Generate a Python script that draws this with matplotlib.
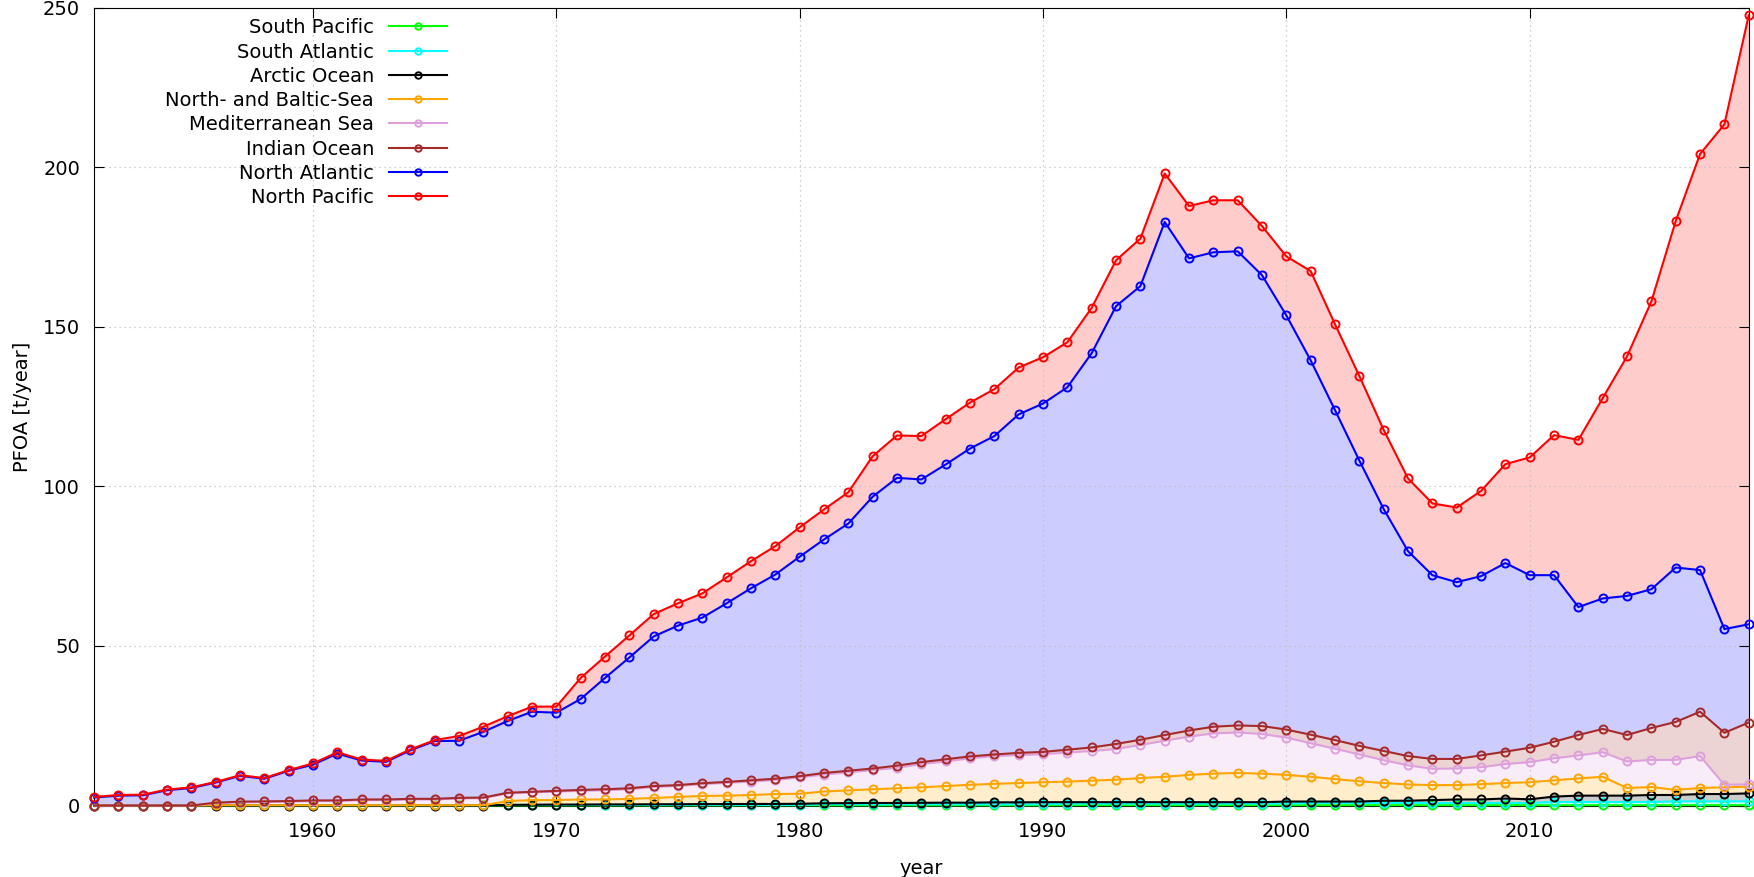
import matplotlib
matplotlib.use("Agg")
import matplotlib.pyplot as plt

plt.rcParams['font.family'] = ['DejaVu Sans']

years = list(range(1951, 2020))

# stacked totals (top edge of each band), t/year
south_pacific = [0.0]*5 + [0.05]*35 + [0.1]*29
south_atlantic = [0.0]*5 + [0.1]*12 + [0.2]*13 + [0.4]*10 + [0.6]*10 + [0.8]*10 + [1.1]*5 + [1.3]*4
arctic_ocean = [0.0]*17 + [
    0.2, 0.25, 0.3, 0.3, 0.35, 0.35, 0.4, 0.4, 0.45, 0.45, 0.5, 0.5, 0.55,
    0.7, 0.75, 0.8, 0.8, 0.85, 0.9, 0.9, 1.0, 1.0, 1.05,
    1.05, 1.05, 1.05, 1.05, 1.05, 1.05, 1.05, 1.05, 1.05, 1.25,
    1.25, 1.25, 1.25, 1.5, 1.5, 1.7, 1.9, 1.9, 2.2, 1.95,
    2.8, 3.1, 3.1, 3.1, 3.3, 3.3, 3.6, 3.6, 3.8]
north_baltic = [0.0]*5 + [0.1]*12 + [
    1.4, 1.7, 1.7, 1.9, 1.9, 2.1, 2.35, 2.7, 3.0, 3.1, 3.3, 3.6, 3.7,
    4.4, 4.75, 5.1, 5.4, 5.7, 6.1, 6.5, 6.8, 7.05, 7.3,
    7.5, 7.8, 8.1, 8.6, 9.0, 9.6, 10.0, 10.2, 10.0, 9.6,
    9.0, 8.3, 7.6, 7.05, 6.6, 6.4, 6.4, 6.7, 7.05, 7.3,
    7.9, 8.5, 9.0, 5.5, 5.8, 4.9, 5.5, 5.7, 5.9]
mediterranean = [0.0]*5 + [
    0.7, 1.0, 1.1, 1.2, 1.4, 1.4, 1.7, 1.7, 1.9, 1.9, 2.2, 2.3,
    3.8, 4.1, 4.4, 4.6, 4.8, 5.1, 5.8, 6.1, 6.7, 7.1, 7.5, 8.0, 8.8,
    9.7, 10.4, 11.1, 11.8, 13.0, 13.8, 14.8, 15.5, 15.8, 16.1,
    16.6, 17.1, 17.7, 19.0, 20.3, 21.6, 22.6, 22.9, 22.4, 21.3,
    19.5, 17.8, 16.0, 14.2, 12.6, 11.5, 11.6, 12.0, 13.0, 13.6,
    14.8, 15.7, 16.7, 13.8, 14.3, 14.3, 15.5, 6.5, 6.6]
indian_ocean = [0.0]*5 + [
    0.9, 1.2, 1.3, 1.4, 1.6, 1.6, 1.9, 1.9, 2.1, 2.1, 2.4, 2.5,
    4.0, 4.3, 4.6, 4.9, 5.1, 5.4, 6.1, 6.4, 7.0, 7.4, 7.9, 8.4, 9.2,
    10.2, 10.9, 11.6, 12.5, 13.6, 14.5, 15.4, 16.0, 16.5, 16.8,
    17.5, 18.2, 19.3, 20.6, 22.1, 23.5, 24.7, 25.1, 24.9, 23.8,
    22.2, 20.5, 18.7, 17.1, 15.5, 14.6, 14.6, 15.7, 16.9, 18.1,
    20.0, 22.1, 24.0, 22.1, 24.3, 26.2, 29.4, 22.8, 26.0]
north_atlantic = [
    2.5, 3.1, 3.2, 4.8, 5.5, 7.2, 9.3, 8.4, 10.9, 12.8,
    16.3, 14.1, 13.7, 17.3, 20.2, 20.3, 23.1, 26.5, 29.4, 29.1,
    33.4, 40.0, 46.4, 53.0, 56.4, 58.9, 63.4, 68.1, 72.4, 78.0,
    83.4, 88.4, 96.8, 102.7, 102.2, 106.9, 111.9, 115.8, 122.6, 126.0,
    131.1, 141.8, 156.5, 162.8, 182.9, 171.5, 173.4, 173.7, 166.2, 153.6,
    139.5, 123.9, 108.1, 92.9, 79.7, 72.2, 70.0, 71.9, 76.0, 72.2,
    72.2, 62.2, 64.9, 65.7, 67.8, 74.6, 73.8, 55.3, 56.8]
north_pacific = [
    2.7, 3.3, 3.4, 5.0, 5.7, 7.4, 9.5, 8.6, 11.1, 13.2,
    16.7, 14.4, 14.0, 17.6, 20.5, 21.8, 24.7, 28.0, 31.0, 31.0,
    40.0, 46.7, 53.3, 60.0, 63.4, 66.5, 71.5, 76.6, 81.3, 87.2,
    92.8, 98.2, 109.5, 116.0, 115.8, 121.1, 126.3, 130.5, 137.3, 140.5,
    145.2, 156.0, 170.9, 177.7, 198.1, 187.9, 189.7, 189.7, 181.6, 172.1,
    167.5, 150.8, 134.6, 117.7, 102.5, 94.7, 93.4, 98.6, 107.0, 109.1,
    116.1, 114.6, 127.7, 140.8, 158.0, 183.2, 204.2, 213.5, 247.7]

labels = ['South Pacific', 'South Atlantic', 'Arctic Ocean', 'North- and Baltic-Sea',
          'Mediterranean Sea', 'Indian Ocean', 'North Atlantic', 'North Pacific']
colors = ['#00ff00', '#00ffff', '#000000', '#ffa500',
          '#dda0dd', '#a52a2a', '#0000ff', '#ff0000']
series = [south_pacific, south_atlantic, arctic_ocean, north_baltic,
          mediterranean, indian_ocean, north_atlantic, north_pacific]

fig = plt.figure(figsize=(17.54, 8.77), dpi=100)
ax = fig.add_axes([0.0536, 0.0815, 0.9434, 0.9095])

below = [0.0]*len(years)
for vals, col, lab in zip(series, colors, labels):
    ax.fill_between(years, below, vals, color=col, alpha=0.2, linewidth=0, zorder=1)
    below = vals
for i, (vals, col, lab) in enumerate(zip(series, colors, labels)):
    ax.plot(years, vals, color=col, lw=1.5, marker='o', ms=5.8, mfc='none',
            mew=1.4, label=lab, clip_on=False, zorder=3 + i)

ax.set_xlim(1951, 2019)
ax.set_ylim(0, 250)
ax.set_xticks(range(1960, 2011, 10))
ax.set_yticks(range(0, 251, 50))
ax.grid(True, color='#c0c0c0', linestyle=(0, (1, 3)), linewidth=0.9)
ax.tick_params(direction='in', length=7, top=True, right=True, labelsize=14)
ax.tick_params(axis='x', pad=12)
ax.tick_params(axis='y', pad=10)
ax.set_xlabel('year', fontsize=14, labelpad=13)
ax.set_ylabel('PFOA [t/year]', fontsize=14, labelpad=8)

leg = ax.legend(loc='upper right', bbox_to_anchor=(0.2133, 0.987), frameon=False,
                markerfirst=False, fontsize=14, handlelength=3.0, handletextpad=0.75,
                labelspacing=0.27, borderpad=0, borderaxespad=0, numpoints=1,
                markerscale=0.8)

fig.savefig('out.png', dpi=100)
